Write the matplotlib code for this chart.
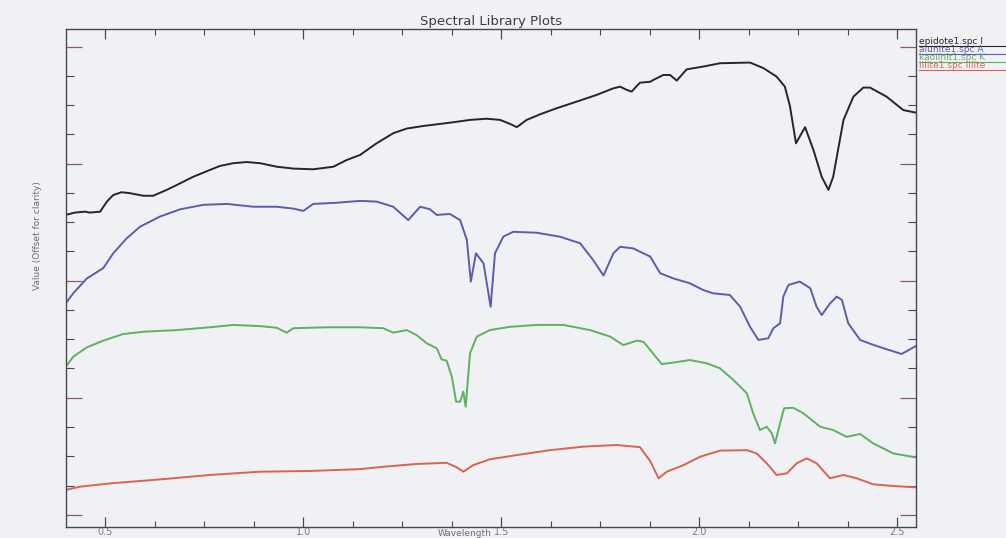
import matplotlib.pyplot as plt
from matplotlib.ticker import MultipleLocator
from matplotlib.lines import Line2D

# spectra (wavelength in micrometres, offset values)
epidote_wl = [0.400, 0.423, 0.449, 0.461, 0.487, 0.504, 0.520, 0.541, 0.562, 0.596,
              0.621, 0.655, 0.689, 0.722, 0.764, 0.789, 0.823, 0.857, 0.891, 0.933,
              0.975, 1.025, 1.076, 1.110, 1.143, 1.185, 1.227, 1.261, 1.303, 1.370,
              1.421, 1.463, 1.497, 1.522, 1.539, 1.564, 1.598, 1.640, 1.690, 1.741,
              1.783, 1.800, 1.817, 1.829, 1.850, 1.876, 1.884, 1.909, 1.926, 1.943,
              1.968, 2.010, 2.052, 2.128, 2.162, 2.195, 2.216, 2.229, 2.244, 2.267,
              2.288, 2.309, 2.326, 2.338, 2.364, 2.389, 2.414, 2.431, 2.473, 2.515,
              2.547]
epidote_val = [1.281, 1.291, 1.295, 1.291, 1.295, 1.338, 1.366, 1.378, 1.374, 1.363,
               1.363, 1.388, 1.416, 1.444, 1.473, 1.490, 1.502, 1.507, 1.502, 1.487,
               1.479, 1.476, 1.487, 1.516, 1.537, 1.587, 1.630, 1.650, 1.661, 1.675,
               1.687, 1.692, 1.687, 1.670, 1.656, 1.687, 1.711, 1.737, 1.765, 1.794,
               1.822, 1.829, 1.815, 1.808, 1.846, 1.850, 1.858, 1.879, 1.879, 1.855,
               1.903, 1.915, 1.929, 1.932, 1.908, 1.872, 1.829, 1.744, 1.587, 1.656,
               1.559, 1.444, 1.388, 1.444, 1.687, 1.786, 1.825, 1.825, 1.786, 1.729,
               1.718]

alunite_wl = [0.400, 0.419, 0.453, 0.495, 0.520, 0.554, 0.588, 0.638, 0.689, 0.747,
              0.807, 0.874, 0.933, 0.975, 1.000, 1.025, 1.084, 1.143, 1.185, 1.227,
              1.265, 1.295, 1.320, 1.337, 1.370, 1.396, 1.413, 1.423, 1.436, 1.455,
              1.473, 1.484, 1.505, 1.530, 1.589, 1.648, 1.699, 1.732, 1.758, 1.783,
              1.800, 1.833, 1.876, 1.901, 1.934, 1.976, 2.010, 2.035, 2.077, 2.103,
              2.128, 2.149, 2.174, 2.187, 2.204, 2.212, 2.225, 2.254, 2.280, 2.296,
              2.309, 2.330, 2.347, 2.360, 2.376, 2.406, 2.434, 2.473, 2.511, 2.547]
alunite_val = [0.903, 0.946, 1.009, 1.054, 1.117, 1.181, 1.231, 1.274, 1.305, 1.324,
               1.328, 1.316, 1.316, 1.308, 1.298, 1.328, 1.333, 1.341, 1.338, 1.316,
               1.259, 1.316, 1.305, 1.281, 1.285, 1.259, 1.174, 0.996, 1.117, 1.074,
               0.889, 1.117, 1.188, 1.209, 1.205, 1.188, 1.160, 1.088, 1.022, 1.117,
               1.145, 1.138, 1.103, 1.032, 1.010, 0.989, 0.960, 0.946, 0.939, 0.889,
               0.803, 0.747, 0.754, 0.797, 0.818, 0.932, 0.982, 0.996, 0.968, 0.889,
               0.853, 0.903, 0.932, 0.918, 0.818, 0.747, 0.729, 0.707, 0.687, 0.721]

kaolinite_wl = [0.400, 0.419, 0.453, 0.495, 0.545, 0.596, 0.680, 0.764, 0.823, 0.891,
                0.933, 0.958, 0.975, 1.059, 1.143, 1.202, 1.227, 1.261, 1.286, 1.312,
                1.337, 1.349, 1.362, 1.375, 1.386, 1.396, 1.404, 1.410, 1.421, 1.438,
                1.471, 1.522, 1.589, 1.657, 1.724, 1.775, 1.808, 1.842, 1.859, 1.876,
                1.905, 1.934, 1.976, 2.019, 2.052, 2.086, 2.120, 2.136, 2.153, 2.170,
                2.183, 2.191, 2.204, 2.214, 2.237, 2.263, 2.305, 2.338, 2.372, 2.406,
                2.439, 2.490, 2.547]
kaolinite_val = [0.632, 0.675, 0.715, 0.744, 0.772, 0.782, 0.789, 0.801, 0.811, 0.806,
                 0.799, 0.778, 0.797, 0.801, 0.801, 0.797, 0.778, 0.789, 0.768, 0.732,
                 0.711, 0.664, 0.658, 0.590, 0.483, 0.483, 0.526, 0.462, 0.690, 0.761,
                 0.789, 0.803, 0.811, 0.811, 0.789, 0.761, 0.725, 0.744, 0.739, 0.704,
                 0.644, 0.650, 0.661, 0.647, 0.626, 0.576, 0.519, 0.433, 0.362, 0.376,
                 0.348, 0.305, 0.391, 0.455, 0.457, 0.433, 0.376, 0.362, 0.333, 0.345,
                 0.305, 0.262, 0.245]

illite_wl = [0.400, 0.436, 0.512, 0.638, 0.764, 0.891, 1.017, 1.143, 1.202, 1.286,
             1.362, 1.387, 1.404, 1.429, 1.471, 1.539, 1.623, 1.707, 1.791, 1.850,
             1.876, 1.897, 1.918, 1.960, 2.002, 2.052, 2.120, 2.145, 2.170, 2.195,
             2.221, 2.246, 2.271, 2.296, 2.330, 2.364, 2.397, 2.439, 2.490, 2.547]
illite_val = [0.106, 0.120, 0.134, 0.151, 0.170, 0.184, 0.187, 0.195, 0.205, 0.217,
              0.222, 0.203, 0.184, 0.212, 0.237, 0.255, 0.276, 0.291, 0.298, 0.289,
              0.229, 0.156, 0.184, 0.212, 0.248, 0.274, 0.276, 0.262, 0.220, 0.170,
              0.177, 0.220, 0.241, 0.220, 0.156, 0.170, 0.156, 0.130, 0.123, 0.117]

# legend entries as far as the reference shows them
names = ['epidote1.spc I', 'alunite1.spc A', 'kaolinit1.spc K', 'illite1.spc Illite']
colors = ['#262626', '#5c5cae', '#5fb05f', '#d9644e']

bg = '#f0f1f5'
axis_col = '#4a4650'

fig = plt.figure(figsize=(10.06, 5.38), dpi=100, facecolor=bg)
ax = fig.add_axes([0.0653, 0.021, 0.8452, 0.9245], facecolor=bg)

series = [(epidote_wl, epidote_val), (alunite_wl, alunite_val),
          (kaolinite_wl, kaolinite_val), (illite_wl, illite_val)]
for (wl, val), c in zip(series, colors):
    ax.plot(wl, val, color=c, lw=1.4)

ax.set_xlim(0.4, 2.547)
ax.set_ylim(-0.051, 2.074)

ax.xaxis.set_major_locator(MultipleLocator(0.5))
ax.xaxis.set_minor_locator(MultipleLocator(0.125))
ax.yaxis.set_major_locator(MultipleLocator(0.5))
ax.yaxis.set_minor_locator(MultipleLocator(0.125))
ax.set_xticks([0.5, 1.0, 1.5, 2.0, 2.5])
ax.set_xticklabels(['0.5', '1.0', '1.5', '2.0', '2.5'])
ax.set_yticklabels([])

ax.tick_params(axis='x', which='major', direction='in', length=7.2, width=0.9,
               top=True, bottom=True, color=axis_col, labelsize=7,
               labelcolor='#7c7c84', pad=0)
ax.tick_params(axis='x', which='minor', direction='in', length=4, width=0.8,
               top=True, bottom=True, color=axis_col)
ax.tick_params(axis='y', which='major', direction='in', length=11.5, width=0.9,
               left=True, right=True, color='#8a5a6a')
ax.tick_params(axis='y', which='minor', direction='in', length=5.5, width=0.8,
               left=True, right=True, color=axis_col)

for s in ax.spines.values():
    s.set_color(axis_col)
    s.set_linewidth(1.0)

fig.text(0.488, (538 - 28) / 538, 'Spectral Library Plots', ha='center',
         va='bottom', fontsize=9.5, color='#3c3a46')
fig.text(0.037, (538 - 236) / 538, 'Value (Offset for clarity)', rotation=90,
         ha='center', va='center', fontsize=6.5, color='#6c6c74')
fig.text(0.462, 0.0, 'Wavelength', ha='center', va='bottom',
         fontsize=6.5, color='#6c6c74')

# underlined legend rows to the right of the plot
leg_base = [44.5, 52.5, 60.5, 68.5]
for name, c, py in zip(names, colors, leg_base):
    yf = (538 - py) / 538
    fig.text(919 / 1006, yf, name, ha='left', va='baseline', fontsize=6.5,
             color=c)
    yl = (538 - py - 1.5) / 538
    fig.add_artist(Line2D([919 / 1006, 1.0], [yl, yl], color=c, lw=0.8,
                          transform=fig.transFigure))

fig.savefig('out.png', dpi=100, facecolor=bg)
